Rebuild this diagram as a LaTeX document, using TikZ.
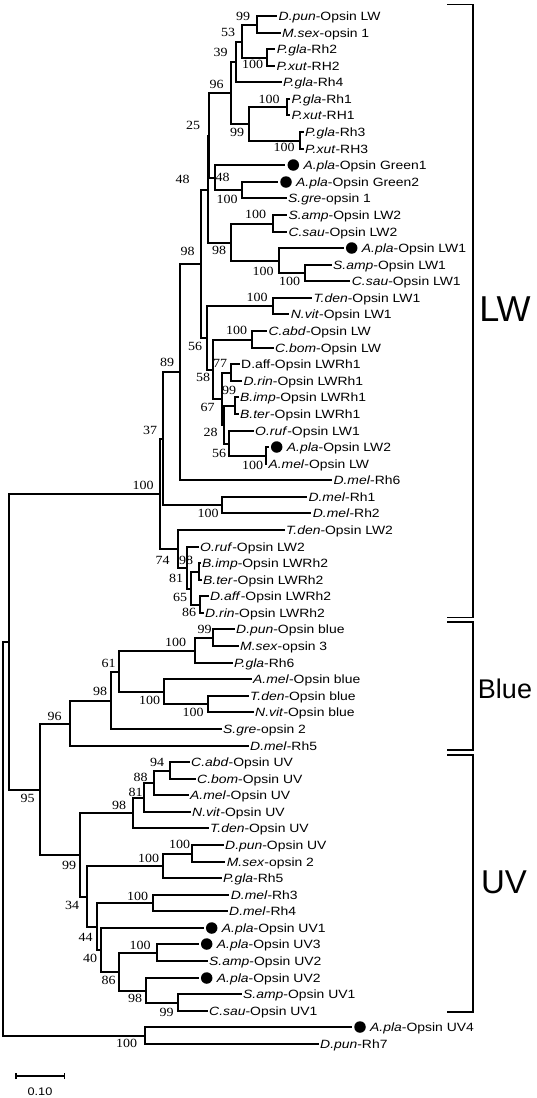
\documentclass[tikz,border=0pt]{standalone}
\usepackage{fontspec}
\setmainfont{Liberation Sans}[FakeStretch=1.16]
\newfontfamily\bsfont{Liberation Serif}[FakeStretch=1.12]
\newfontfamily\cladefont{Liberation Sans}
\usetikzlibrary{calc}
\tikzset{
 br/.style={line width=2pt},
 leaf/.style={anchor=west, inner xsep=1.5pt, inner ysep=0pt, text height=8.6pt, text depth=0pt, font=\fontsize{12}{13}\selectfont},
 bs/.style={inner sep=0pt, font=\bsfont\fontsize{12.5}{13}\selectfont},
 adot/.style={circle, fill=black, inner sep=0pt, minimum size=11.5pt},
 clade/.style={inner sep=0pt, font=\cladefont\fontsize{36}{38}\selectfont},
 brk/.style={line width=1.6pt},
 sbar/.style={line width=1.5pt}
}
\newcommand\ry[1]{round(16+(#1-1)*16.58)}
\newcommand\lf[4]{\node[leaf] (#1) at ({#2-1.5},{\ry{#3}}) {#4};}
\newcommand\dl[4]{\node[adot] (#1) at ({#2},{\ry{#3}}) {}; \node[leaf] (#1t) at ({#2+8.5},{\ry{#3}}) {#4};}
\newcommand\inn[4]{\path let \p1=(#3), \p2=(#4) in coordinate (#1) at ({round(#2)*1pt},{round(0.5*(\y1)+0.5*(\y2))});}
\newcommand\ed[2]{\draw[br] (#1) |- (#2);}
\newcommand\edd[2]{\draw[br, shorten >=2pt] (#1) |- (#2);}
\begin{document}
\begin{tikzpicture}[x=1pt, y=-1pt]
\useasboundingbox (0,0) rectangle (536,1098);
% ---------- leaves ----------
\lf{l1}{278.5}{1}{\textit{D.pun}-Opsin LW}
\lf{l2}{282}{2}{\textit{M.sex}-opsin 1}
\lf{l3}{276.7}{3}{\textit{P.gla}-Rh2}
\lf{l4}{276.5}{4}{\textit{P.xut}-RH2}
\lf{l5}{283}{5}{\textit{P.gla}-Rh4}
\lf{l6}{291.5}{6}{\textit{P.gla}-Rh1}
\lf{l7}{291.5}{7}{\textit{P.xut}-RH1}
\lf{l8}{305}{8}{\textit{P.gla}-Rh3}
\lf{l9}{305}{9}{\textit{P.xut}-RH3}
\dl{l10}{293.3}{10}{\textit{A.pla}-Opsin Green1}
\dl{l11}{286}{11}{\textit{A.pla}-Opsin Green2}
\lf{l12}{288}{12}{\textit{S.gre}-opsin 1}
\lf{l13}{288.3}{13}{\textit{S.amp}-Opsin LW2}
\lf{l14}{288.3}{14}{\textit{C.sau}-Opsin LW2}
\dl{l15}{351.7}{15}{\textit{A.pla}-Opsin LW1}
\lf{l16}{333}{16}{\textit{S.amp}-Opsin LW1}
\lf{l17}{351.7}{17}{\textit{C.sau}-Opsin LW1}
\lf{l18}{313.3}{18}{\textit{T.den}-Opsin LW1}
\lf{l19}{290.7}{19}{\textit{N.vit}-Opsin LW1}
\lf{l20}{268.3}{20}{\textit{C.abd}-Opsin LW}
\lf{l21}{275}{21}{\textit{C.bom}-Opsin LW}
\lf{l22}{241}{22}{D.aff-Opsin LWRh1}
\lf{l23}{243.3}{23}{\textit{D.rin}-Opsin LWRh1}
\lf{l24}{240}{24}{\textit{B.imp}-Opsin LWRh1}
\lf{l25}{240}{25}{\textit{B.ter}-Opsin LWRh1}
\lf{l26}{255}{26}{\textit{O.ruf}-Opsin LW1}
\dl{l27}{276.7}{27}{\textit{A.pla}-Opsin LW2}
\lf{l28}{268.3}{28}{\textit{A.mel}-Opsin LW}
\lf{l29}{333.3}{29}{\textit{D.mel}-Rh6}
\lf{l30}{308.3}{30}{\textit{D.mel}-Rh1}
\lf{l31}{312.7}{31}{\textit{D.mel}-Rh2}
\lf{l32}{286}{32}{\textit{T.den}-Opsin LW2}
\lf{l33}{200}{33}{\textit{O.ruf}-Opsin LW2}
\lf{l34}{202}{34}{\textit{B.imp}-Opsin LWRh2}
\lf{l35}{203}{35}{\textit{B.ter}-Opsin LWRh2}
\lf{l36}{210}{36}{\textit{D.aff}-Opsin LWRh2}
\lf{l37}{205}{37}{\textit{D.rin}-Opsin LWRh2}
\lf{l38}{236}{38}{\textit{D.pun}-Opsin blue}
\lf{l39}{240}{39}{\textit{M.sex}-opsin 3}
\lf{l40}{234}{40}{\textit{P.gla}-Rh6}
\lf{l41}{253}{41}{\textit{A.mel}-Opsin blue}
\lf{l42}{250}{42}{\textit{T.den}-Opsin blue}
\lf{l43}{255}{43}{\textit{N.vit}-Opsin blue}
\lf{l44}{223}{44}{\textit{S.gre}-opsin 2}
\lf{l45}{250}{45}{\textit{D.mel}-Rh5}
\lf{l46}{191}{46}{\textit{C.abd}-Opsin UV}
\lf{l47}{197}{47}{\textit{C.bom}-Opsin UV}
\lf{l48}{190}{48}{\textit{A.mel}-Opsin UV}
\lf{l49}{192}{49}{\textit{N.vit}-Opsin UV}
\lf{l50}{210}{50}{\textit{T.den}-Opsin UV}
\lf{l51}{225}{51}{\textit{D.pun}-Opsin UV}
\lf{l52}{226.7}{52}{\textit{M.sex}-opsin 2}
\lf{l53}{223}{53}{\textit{P.gla}-Rh5}
\lf{l54}{230.7}{54}{\textit{D.mel}-Rh3}
\lf{l55}{229}{55}{\textit{D.mel}-Rh4}
\dl{l56}{211.7}{56}{\textit{A.pla}-Opsin UV1}
\dl{l57}{206.7}{57}{\textit{A.pla}-Opsin UV3}
\lf{l58}{209}{58}{\textit{S.amp}-Opsin UV2}
\dl{l59}{206.7}{59}{\textit{A.pla}-Opsin UV2}
\lf{l60}{243}{60}{\textit{S.amp}-Opsin UV1}
\lf{l61}{209}{61}{\textit{C.sau}-Opsin UV1}
\dl{l62}{360}{62}{\textit{A.pla}-Opsin UV4}
\lf{l63}{320}{63}{\textit{D.pun}-Rh7}
% ---------- internal nodes ----------
\inn{a99}{257}{l1}{l2}
\inn{a100}{267}{l3}{l4}
\inn{a53}{242}{a99}{a100}
\inn{a39}{236}{a53}{l5}
\inn{b100}{287}{l6}{l7}
\inn{c100}{300}{l8}{l9}
\inn{b99}{249}{b100}{c100}
\inn{a96}{231}{a39}{b99}
\inn{g100}{242}{l11}{l12}
\inn{g48}{215}{l10}{g100}
\inn{a25}{209}{a96}{g48}
\inn{d100}{273}{l13}{l14}
\inn{e100}{305}{l16}{l17}
\inn{f100}{279}{l15}{e100}
\inn{d98}{231}{d100}{f100}
\inn{o48}{208}{a25}{d98}
\inn{h100}{273}{l18}{l19}
\inn{i100}{252}{l20}{l21}
\inn{j77}{231}{l22}{l23}
\inn{j99}{235}{l24}{l25}
\inn{k100}{266}{l27}{l28}
\inn{k56}{229}{l26}{k100}
\inn{k28}{224}{j99}{k56}
\inn{k67}{222}{j77}{k28}
\inn{k58}{213}{i100}{k67}
\inn{h56}{207}{h100}{k58}
\inn{o98}{201}{o48}{h56}
\inn{o89}{180}{o98}{l29}
\inn{m100}{222}{l30}{l31}
\inn{o37}{163}{o89}{m100}
\inn{n81}{199}{l34}{l35}
\inn{n86}{200}{l36}{l37}
\inn{n65}{191}{n81}{n86}
\inn{n98}{187}{l33}{n65}
\inn{n74}{178}{l32}{n98}
\inn{LW}{160}{o37}{n74}
\inn{p99}{213}{l38}{l39}
\inn{p100}{195}{p99}{l40}
\inn{q100}{208}{l42}{l43}
\inn{q100b}{164}{l41}{q100}
\inn{p61}{119}{p100}{q100b}
\inn{p98}{111}{p61}{l44}
\inn{B96}{70}{p98}{l45}
\inn{u94}{170}{l46}{l47}
\inn{u88}{154}{u94}{l48}
\inn{u81}{144}{u88}{l49}
\inn{u98}{133}{u81}{l50}
\inn{v100}{192}{l51}{l52}
\inn{v100b}{163}{v100}{l53}
\inn{w100}{153}{l54}{l55}
\inn{x100}{157}{l57}{l58}
\inn{y99}{178}{l60}{l61}
\inn{y98}{146}{l59}{y99}
\inn{x86}{119}{x100}{y98}
\inn{x40}{101}{l56}{x86}
\inn{x44}{97}{w100}{x40}
\inn{x34}{87}{v100b}{x44}
\inn{U99}{80}{u98}{x34}
\inn{U95}{40}{B96}{U99}
\inn{top}{9}{LW}{U95}
\inn{z100}{145}{l62}{l63}
\inn{root}{3}{top}{z100}
% ---------- branches ----------
\ed{a99}{l1.west} \ed{a99}{l2.west}
\ed{a100}{l3.west} \ed{a100}{l4.west}
\ed{a53}{a99} \ed{a53}{a100}
\ed{a39}{a53} \ed{a39}{l5.west}
\ed{b100}{l6.west} \ed{b100}{l7.west}
\ed{c100}{l8.west} \ed{c100}{l9.west}
\ed{b99}{b100} \ed{b99}{c100}
\ed{a96}{a39} \ed{a96}{b99}
\edd{g100}{l11.west} \ed{g100}{l12.west}
\edd{g48}{l10.west} \ed{g48}{g100}
\ed{a25}{a96} \ed{a25}{g48}
\ed{d100}{l13.west} \ed{d100}{l14.west}
\ed{e100}{l16.west} \ed{e100}{l17.west}
\edd{f100}{l15.west} \ed{f100}{e100}
\ed{d98}{d100} \ed{d98}{f100}
\ed{o48}{a25} \ed{o48}{d98}
\ed{h100}{l18.west} \ed{h100}{l19.west}
\ed{i100}{l20.west} \ed{i100}{l21.west}
\ed{j77}{l22.west} \ed{j77}{l23.west}
\ed{j99}{l24.west} \ed{j99}{l25.west}
\edd{k100}{l27.west} \ed{k100}{l28.west}
\ed{k56}{l26.west} \ed{k56}{k100}
\ed{k28}{j99} \ed{k28}{k56}
\ed{k67}{j77} \ed{k67}{k28}
\ed{k58}{i100} \ed{k58}{k67}
\ed{h56}{h100} \ed{h56}{k58}
\ed{o98}{o48} \ed{o98}{h56}
\ed{o89}{o98} \ed{o89}{l29.west}
\ed{m100}{l30.west} \ed{m100}{l31.west}
\ed{o37}{o89} \ed{o37}{m100}
\ed{n81}{l34.west} \ed{n81}{l35.west}
\ed{n86}{l36.west} \ed{n86}{l37.west}
\ed{n65}{n81} \ed{n65}{n86}
\ed{n98}{l33.west} \ed{n98}{n65}
\ed{n74}{l32.west} \ed{n74}{n98}
\ed{LW}{o37} \ed{LW}{n74}
\ed{p99}{l38.west} \ed{p99}{l39.west}
\ed{p100}{p99} \ed{p100}{l40.west}
\ed{q100}{l42.west} \ed{q100}{l43.west}
\ed{q100b}{l41.west} \ed{q100b}{q100}
\ed{p61}{p100} \ed{p61}{q100b}
\ed{p98}{p61} \ed{p98}{l44.west}
\ed{B96}{p98} \ed{B96}{l45.west}
\ed{u94}{l46.west} \ed{u94}{l47.west}
\ed{u88}{u94} \ed{u88}{l48.west}
\ed{u81}{u88} \ed{u81}{l49.west}
\ed{u98}{u81} \ed{u98}{l50.west}
\ed{v100}{l51.west} \ed{v100}{l52.west}
\ed{v100b}{v100} \ed{v100b}{l53.west}
\ed{w100}{l54.west} \ed{w100}{l55.west}
\edd{x100}{l57.west} \ed{x100}{l58.west}
\ed{y99}{l60.west} \ed{y99}{l61.west}
\edd{y98}{l59.west} \ed{y98}{y99}
\ed{x86}{x100} \ed{x86}{y98}
\edd{x40}{l56.west} \ed{x40}{x86}
\ed{x44}{w100} \ed{x44}{x40}
\ed{x34}{v100b} \ed{x34}{x44}
\ed{U99}{u98} \ed{U99}{x34}
\ed{U95}{B96} \ed{U95}{U99}
\ed{top}{LW} \ed{top}{U95}
\edd{z100}{l62.west} \ed{z100}{l63.west}
\ed{root}{top} \ed{root}{z100}
% ---------- bootstrap values ----------
\node[bs] (s1) at (243,16) {99};
\node[bs] (s2) at (228,32.5) {53};
\node[bs] (s3) at (220.5,52.5) {39};
\node[bs] (s4) at (252.5,64) {100};
\node[bs] (s5) at (216.5,84) {96};
\node[bs] (s6) at (269,99) {100};
\node[bs] (s7) at (193,125) {25};
\node[bs] (s8) at (237,132.5) {99};
\node[bs] (s9) at (284,147.5) {100};
\node[bs] (s10) at (182.5,179) {48};
\node[bs] (s11) at (222.5,177.5) {48};
\node[bs] (s12) at (227,199) {100};
\node[bs] (s13) at (255.5,214.5) {100};
\node[bs] (s14) at (187.5,251) {98};
\node[bs] (s15) at (219,250.5) {98};
\node[bs] (s16) at (263,271.5) {100};
\node[bs] (s17) at (289.5,281.5) {100};
\node[bs] (s18) at (257,297.5) {100};
\node[bs] (s19) at (236.5,330.5) {100};
\node[bs] (s20) at (195,346.5) {56};
\node[bs] (s21) at (167,362.5) {89};
\node[bs] (s22) at (220,363) {77};
\node[bs] (s23) at (203,377.5) {58};
\node[bs] (s24) at (229,390.5) {99};
\node[bs] (s25) at (207.5,407) {67};
\node[bs] (s26) at (210.5,432) {28};
\node[bs] (s27) at (150,430) {37};
\node[bs] (s28) at (219,453) {56};
\node[bs] (s29) at (252.5,465) {100};
\node[bs] (s30) at (143,485) {100};
\node[bs] (s31) at (208,513) {100};
\node[bs] (s32) at (162.5,560) {74};
\node[bs] (s33) at (186,560) {98};
\node[bs] (s34) at (176,578) {81};
\node[bs] (s35) at (180,597) {65};
\node[bs] (s36) at (189,612) {86};
\node[bs] (s37) at (204.5,629.5) {99};
\node[bs] (s38) at (175.5,642) {100};
\node[bs] (s39) at (108.5,663) {61};
\node[bs] (s40) at (100,691.5) {98};
\node[bs] (s41) at (149.5,700) {100};
\node[bs] (s42) at (193,712.5) {100};
\node[bs] (s43) at (54.5,716) {96};
\node[bs] (s44) at (157,762.5) {94};
\node[bs] (s45) at (140.5,777) {88};
\node[bs] (s46) at (135.5,792) {81};
\node[bs] (s47) at (27.5,798) {95};
\node[bs] (s48) at (119,805) {98};
\node[bs] (s49) at (179.5,844.5) {100};
\node[bs] (s50) at (148.5,858) {100};
\node[bs] (s51) at (69,865) {99};
\node[bs] (s52) at (137.5,896) {100};
\node[bs] (s53) at (72,905) {34};
\node[bs] (s54) at (85.5,937.5) {44};
\node[bs] (s55) at (90,958) {40};
\node[bs] (s56) at (140,945) {100};
\node[bs] (s57) at (108.5,980) {86};
\node[bs] (s58) at (135,998) {98};
\node[bs] (s59) at (166.5,1012) {99};
\node[bs] (s60) at (126.5,1043.5) {100};
% ---------- clade brackets ----------
\draw[brk] (447,4.5) -| (473,617.5) -- (447,617.5);
\draw[brk] (447,622) -| (473,750) -- (447,750);
\draw[brk] (447,755) -| (473,1012) -- (447,1012);
\node[clade] (cLW) at (505,309) {LW};
\node[clade, font=\cladefont\fontsize{27}{29}\selectfont] (cBlue) at (505,689) {Blue};
\node[clade, font=\cladefont\fontsize{33}{35}\selectfont] (cUV) at (504,882) {UV};
% ---------- scale bar ----------
\coordinate (sb1) at (16,1076);
\coordinate (sb2) at (64.3,1076);
\draw[sbar] (sb1) -- (sb2);
\draw[sbar] ([yshift=-3pt]sb1) -- ([yshift=3pt]sb1);
\draw[sbar] ([yshift=-3pt]sb2) -- ([yshift=3pt]sb2);
\node[inner sep=0pt, font=\fontsize{11}{12}\selectfont] (sbl) at (40,1092) {0.10};
\end{tikzpicture}
\end{document}
